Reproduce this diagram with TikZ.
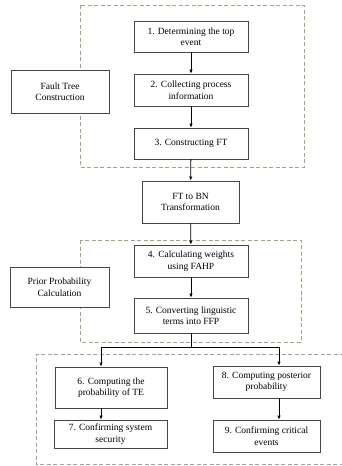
\documentclass[tikz,border=0pt]{standalone}
\usepackage{fontspec}
\setmainfont{Liberation Serif}
\usepackage{tikz}
\usetikzlibrary{arrows.meta,shadows}
\definecolor{boxcolor}{RGB}{70,70,70}
\definecolor{framegreen}{RGB}{150,170,125}
\definecolor{framegrey}{RGB}{160,160,160}
\definecolor{shadowcolor}{RGB}{240,175,150}
\tikzset{
  stepbox/.style={draw=boxcolor, line width=0.8pt, fill=white, align=center,
    inner sep=0pt, font=\fontsize{9.5}{11.5}\selectfont},
  phasebox/.style={stepbox, drop shadow={shadow xshift=0pt, shadow yshift=-1.2pt, fill=shadowcolor}},
  frame/.style={dashed, dash pattern=on 4pt off 2.5pt, line width=0.8pt},
  flow/.style={-{Latex[length=4pt,width=3.5pt]}, line width=0.8pt, black}
}

\begin{document}
\begin{tikzpicture}[x=1pt,y=-1pt]
      \useasboundingbox (0,0) rectangle (342,466);
      % dashed frames
      \draw[frame, framegreen] (80,5) rectangle (304,167);
      \draw[frame, framegreen] (80,240) rectangle (301,342);
      \draw[frame, framegrey] (344,354) -- (36,354) -- (36,464) -- (344,464);

      % steps
      \node[stepbox, minimum width=114pt, minimum height=31pt] (s1) at (191,36.5) {1. Determining the top\\event};
      \node[stepbox, minimum width=114pt, minimum height=32pt] (s2) at (191,90) {2. Collecting process\\information};
      \node[stepbox, minimum width=114pt, minimum height=31pt] (s3) at (191,143.5) {3. Constructing FT};
      \node[phasebox, minimum width=98pt, minimum height=43pt] (ftc) at (60,91.5) {Fault Tree\\Construction};
      \node[phasebox, minimum width=97pt, minimum height=42pt] (ftbn) at (190.5,202) {FT to BN\\Transformation};
      \node[stepbox, minimum width=114pt, minimum height=32pt] (s4) at (191,261) {4. Calculating weights\\using FAHP};
      \node[phasebox, minimum width=99pt, minimum height=40pt] (ppc) at (59.5,287) {Prior Probability\\Calculation};
      \node[stepbox, minimum width=114pt, minimum height=35pt] (s5) at (191,315.5) {5. Converting linguistic\\terms into FFP};
      \node[stepbox, minimum width=112pt, minimum height=41pt] (s6) at (111,387.5) {6. Computing the\\probability of TE};
      \node[stepbox, minimum width=113pt, minimum height=28pt] (s7) at (110.5,434) {7. Confirming system\\security};
      \node[stepbox, minimum width=107pt, minimum height=32pt] (s8) at (266.5,382) {8. Computing posterior\\probability};
      \node[stepbox, minimum width=107pt, minimum height=32pt] (s9) at (266.5,436) {9. Confirming critical\\events};

      % connectors
      \draw[flow] (s1) -- (s2);
      \draw[flow] (s2) -- (s3);
      \draw[flow] (s3) -- (ftbn);
      \draw[flow] (ftbn) -- (s4);
      \draw[flow] (s4) -- (s5);
      \coordinate (split) at (191,347);
      \draw[line width=0.8pt] (s5.south) -- (split);
      \draw[flow] (split) -| (101,0 |- s6.north);
      \draw[flow] (split) -| (279,0 |- s8.north);
      \draw[flow] (101,0 |- s6.south) -- (101,0 |- s7.north);
      \draw[flow] (279,0 |- s8.south) -- (279,0 |- s9.north);
    \end{tikzpicture}
\end{document}
